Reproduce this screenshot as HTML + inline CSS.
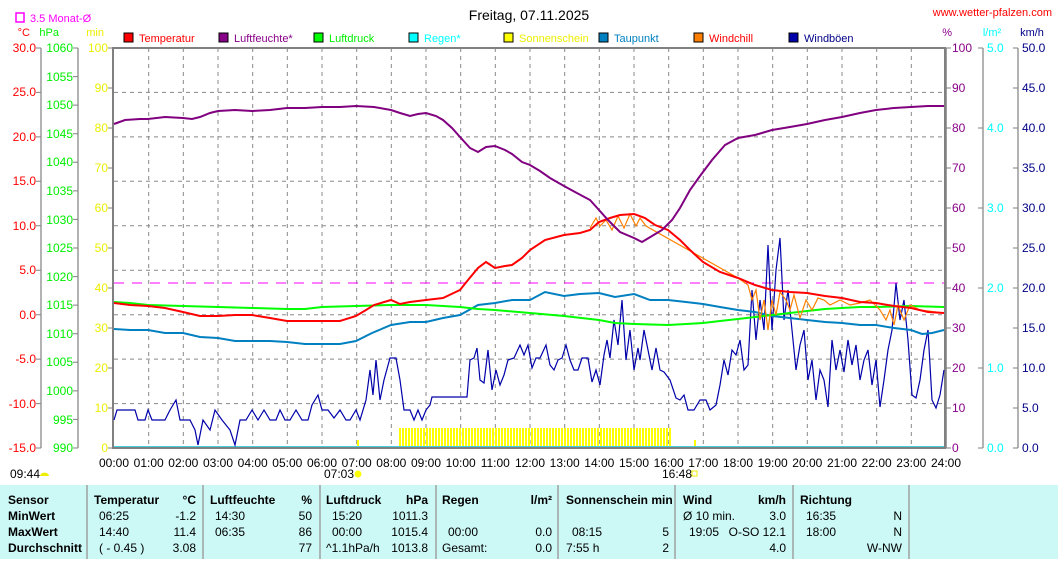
<!DOCTYPE html>
<html><head><meta charset="utf-8"><style>
body{margin:0;background:#fff;width:1058px;height:559px;overflow:hidden;font-family:"Liberation Sans","DejaVu Sans",sans-serif}
svg text{font-family:"Liberation Sans","DejaVu Sans",sans-serif;font-size:12px}
</style></head><body>
<svg width="1058" height="559" viewBox="0 0 1058 559" xmlns="http://www.w3.org/2000/svg">
<rect width="1058" height="559" fill="#fff"/>
<text x="529" y="20" text-anchor="middle" style="font-size:14px" fill="#000">Freitag, 07.11.2025</text>
<text x="1052" y="16" text-anchor="end" fill="#f00" style="font-size:11px">www.wetter-pfalzen.com</text>
<rect x="16" y="13" width="8" height="9" fill="none" stroke="#f0f" stroke-width="1.5"/>
<text x="30" y="22" fill="#f0f" style="font-size:11px">3.5 Monat-Ø</text>
<text x="30" y="36" fill="#f00" text-anchor="end" style="font-size:11px">°C</text>
<text x="59" y="36" fill="#0e0" text-anchor="end" style="font-size:11px">hPa</text>
<text x="104" y="36" fill="#ee0" text-anchor="end" style="font-size:11px">min</text>
<text x="952" y="36" fill="#808" text-anchor="end" style="font-size:11px">%</text>
<text x="992" y="36" fill="#0ff" text-anchor="middle" style="font-size:11px">l/m²</text>
<text x="1032" y="36" fill="#008" text-anchor="middle" style="font-size:11px">km/h</text>
<!-- legend -->
<g style="font-size:11px">
<rect x="124" y="33" width="9" height="9" fill="#f00" stroke="#000"/><text x="139" y="42" fill="#f00" style="font-size:11px">Temperatur</text>
<rect x="219" y="33" width="9" height="9" fill="#808" stroke="#000"/><text x="234" y="42" fill="#808" style="font-size:11px">Luftfeuchte*</text>
<rect x="314" y="33" width="9" height="9" fill="#0f0" stroke="#000"/><text x="329" y="42" fill="#0e0" style="font-size:11px">Luftdruck</text>
<rect x="409" y="33" width="9" height="9" fill="#0ff" stroke="#000"/><text x="424" y="42" fill="#0ff" style="font-size:11px">Regen*</text>
<rect x="504" y="33" width="9" height="9" fill="#ff0" stroke="#000"/><text x="519" y="42" fill="#ee0" style="font-size:11px">Sonnenschein</text>
<rect x="599" y="33" width="9" height="9" fill="#0080c0" stroke="#000"/><text x="614" y="42" fill="#0080c0" style="font-size:11px">Taupunkt</text>
<rect x="694" y="33" width="9" height="9" fill="#ff8000" stroke="#000"/><text x="709" y="42" fill="#f00" style="font-size:11px">Windchill</text>
<rect x="789" y="33" width="9" height="9" fill="#00a" stroke="#000"/><text x="804" y="42" fill="#008" style="font-size:11px">Windböen</text>
</g>
<!-- grid -->
<g stroke="#888" stroke-dasharray="4,4" stroke-width="1">
<line x1="114" y1="92.4" x2="944" y2="92.4"/><line x1="114" y1="136.9" x2="944" y2="136.9"/><line x1="114" y1="181.3" x2="944" y2="181.3"/><line x1="114" y1="225.8" x2="944" y2="225.8"/><line x1="114" y1="270.2" x2="944" y2="270.2"/><line x1="114" y1="314.7" x2="944" y2="314.7"/><line x1="114" y1="359.1" x2="944" y2="359.1"/><line x1="114" y1="403.6" x2="944" y2="403.6"/>
<line x1="148.7" y1="48" x2="148.7" y2="448"/><line x1="183.3" y1="48" x2="183.3" y2="448"/><line x1="218" y1="48" x2="218" y2="448"/><line x1="252.7" y1="48" x2="252.7" y2="448"/><line x1="287.3" y1="48" x2="287.3" y2="448"/><line x1="322" y1="48" x2="322" y2="448"/><line x1="356.7" y1="48" x2="356.7" y2="448"/><line x1="391.3" y1="48" x2="391.3" y2="448"/><line x1="426" y1="48" x2="426" y2="448"/><line x1="460.7" y1="48" x2="460.7" y2="448"/><line x1="495.3" y1="48" x2="495.3" y2="448"/><line x1="530" y1="48" x2="530" y2="448"/><line x1="564.7" y1="48" x2="564.7" y2="448"/><line x1="599.3" y1="48" x2="599.3" y2="448"/><line x1="634" y1="48" x2="634" y2="448"/><line x1="668.7" y1="48" x2="668.7" y2="448"/><line x1="703.3" y1="48" x2="703.3" y2="448"/><line x1="738" y1="48" x2="738" y2="448"/><line x1="772.7" y1="48" x2="772.7" y2="448"/><line x1="807.3" y1="48" x2="807.3" y2="448"/><line x1="842" y1="48" x2="842" y2="448"/><line x1="876.7" y1="48" x2="876.7" y2="448"/><line x1="911.3" y1="48" x2="911.3" y2="448"/>
</g>
<line x1="114" y1="283" x2="944" y2="283" stroke="#f0f" stroke-dasharray="10,8"/>
<!-- sunshine -->
<defs><pattern id="sp" width="3" height="20" patternUnits="userSpaceOnUse"><rect width="2" height="20" fill="#ff0"/></pattern></defs>
<rect x="398" y="428" width="273" height="19" fill="url(#sp)"/>
<rect x="357" y="440" width="2" height="8" fill="#ff0"/><rect x="694" y="440" width="2" height="8" fill="#ff0"/>
<line x1="114" y1="447" x2="944" y2="447" stroke="#40d0e0" stroke-width="2"/>
<!-- axes frame -->
<rect x="113" y="48" width="832" height="400" fill="none" stroke="#808080" stroke-width="2"/>
<line x1="946" y1="48" x2="946" y2="448" stroke="#808080" stroke-width="1.5"/>
<g stroke="#808080" stroke-width="1.2">
<line x1="41" y1="48" x2="41" y2="448"/><line x1="78" y1="48" x2="78" y2="448"/>
<line x1="983" y1="48" x2="983" y2="448"/><line x1="1018" y1="48" x2="1018" y2="448"/>
</g>
<!-- left tick labels -->
<g fill="#f00" text-anchor="end">
<text x="36" y="52">30.0</text><text x="36" y="96">25.0</text><text x="36" y="141">20.0</text><text x="36" y="185">15.0</text><text x="36" y="230">10.0</text><text x="36" y="274">5.0</text><text x="36" y="319">0.0</text><text x="36" y="363">-5.0</text><text x="36" y="408">-10.0</text><text x="36" y="452">-15.0</text>
</g>
<g stroke="#808080"><path d="M36 48h5M36 92.4h5M36 136.9h5M36 181.3h5M36 225.8h5M36 270.2h5M36 314.7h5M36 359.1h5M36 403.6h5M36 448h5M73 48h5M73 76.6h5M73 105.1h5M73 133.7h5M73 162.3h5M73 190.9h5M73 219.4h5M73 248h5M73 276.6h5M73 305.1h5M73 333.7h5M73 362.3h5M73 390.9h5M73 419.4h5M73 448h5M108 48h5M108 88h5M108 128h5M108 168h5M108 208h5M108 248h5M108 288h5M108 328h5M108 368h5M108 408h5M108 448h5M946 48h5M946 88h5M946 128h5M946 168h5M946 208h5M946 248h5M946 288h5M946 328h5M946 368h5M946 408h5M946 448h5M978 48h5M978 128h5M978 208h5M978 288h5M978 368h5M978 448h5M1013 48h5M1013 88h5M1013 128h5M1013 168h5M1013 208h5M1013 248h5M1013 288h5M1013 328h5M1013 368h5M1013 408h5M1013 448h5"/></g>
<g fill="#0e0" text-anchor="end">
<text x="73" y="52">1060</text><text x="73" y="81">1055</text><text x="73" y="109">1050</text><text x="73" y="138">1045</text><text x="73" y="166">1040</text><text x="73" y="195">1035</text><text x="73" y="224">1030</text><text x="73" y="252">1025</text><text x="73" y="281">1020</text><text x="73" y="309">1015</text><text x="73" y="338">1010</text><text x="73" y="366">1005</text><text x="73" y="395">1000</text><text x="73" y="424">995</text><text x="73" y="452">990</text>
</g>
<g fill="#ee0" text-anchor="end">
<text x="108" y="52">100</text><text x="108" y="92">90</text><text x="108" y="132">80</text><text x="108" y="172">70</text><text x="108" y="212">60</text><text x="108" y="252">50</text><text x="108" y="292">40</text><text x="108" y="332">30</text><text x="108" y="372">20</text><text x="108" y="412">10</text><text x="108" y="452">0</text>
</g>
<g fill="#808">
<text x="952" y="52">100</text><text x="952" y="92">90</text><text x="952" y="132">80</text><text x="952" y="172">70</text><text x="952" y="212">60</text><text x="952" y="252">50</text><text x="952" y="292">40</text><text x="952" y="332">30</text><text x="952" y="372">20</text><text x="952" y="412">10</text><text x="952" y="452">0</text>
</g>
<g fill="#0ff">
<text x="987" y="52">5.0</text><text x="987" y="132">4.0</text><text x="987" y="212">3.0</text><text x="987" y="292">2.0</text><text x="987" y="372">1.0</text><text x="987" y="452">0.0</text>
</g>
<g fill="#008">
<text x="1022" y="52">50.0</text><text x="1022" y="92">45.0</text><text x="1022" y="132">40.0</text><text x="1022" y="172">35.0</text><text x="1022" y="212">30.0</text><text x="1022" y="252">25.0</text><text x="1022" y="292">20.0</text><text x="1022" y="332">15.0</text><text x="1022" y="372">10.0</text><text x="1022" y="412">5.0</text><text x="1022" y="452">0.0</text>
</g>
<!-- x labels -->
<g fill="#000" text-anchor="middle">
<text x="114" y="467">00:00</text><text x="148.7" y="467">01:00</text><text x="183.3" y="467">02:00</text><text x="218" y="467">03:00</text><text x="252.7" y="467">04:00</text><text x="287.3" y="467">05:00</text><text x="322" y="467">06:00</text><text x="356.7" y="467">07:00</text><text x="391.3" y="467">08:00</text><text x="426" y="467">09:00</text><text x="460.7" y="467">10:00</text><text x="495.3" y="467">11:00</text><text x="530" y="467">12:00</text><text x="564.7" y="467">13:00</text><text x="599.3" y="467">14:00</text><text x="634" y="467">15:00</text><text x="668.7" y="467">16:00</text><text x="703.3" y="467">17:00</text><text x="738" y="467">18:00</text><text x="772.7" y="467">19:00</text><text x="807.3" y="467">20:00</text><text x="842" y="467">21:00</text><text x="876.7" y="467">22:00</text><text x="911.3" y="467">23:00</text><text x="946" y="467">24:00</text>
</g>
<text x="10" y="478">09:44</text><path d="M40 476a4 3 0 0 1 9 0z" fill="#ee0"/>
<text x="324" y="478">07:03</text><circle cx="358" cy="474" r="3.5" fill="#ff0"/>
<text x="662" y="478">16:48</text><rect x="692" y="471" width="5" height="5" fill="none" stroke="#ee0"/>
<!-- series -->
<polyline fill="none" stroke="#00a" stroke-width="1.2" points="114,420 117,410 135,410 138,420 145,420 148,410 152,420 165,420 170,410 176,400 180,420 190,420 195,430 198,445 203,420 210,430 215,410 222,420 230,430 235,445 240,420 246,420 252,410 258,420 264,410 270,420 276,420 280,410 285,420 290,420 296,410 302,420 308,420 312,405 318,395 322,410 328,410 334,418 340,410 346,420 350,420 356,410 360,420 366,400 370,370 373,395 376,360 380,400 384,380 390,358 396,358 400,380 404,410 410,410 414,420 418,410 422,420 426,410 430,405 432,397 467,397 470,360 474,358 477,348 480,380 484,383 488,350 492,390 496,370 500,385 504,375 508,360 514,358 520,345 524,355 528,345 532,368 536,358 540,358 546,345 550,365 554,370 558,360 562,358 566,345 570,360 574,370 578,370 582,358 588,358 592,382 596,370 600,385 604,355 607,340 610,358 614,320 618,345 622,300 626,360 630,330 634,370 638,348 640,360 644,330 648,350 652,370 656,348 660,370 664,372 670,380 676,398 680,400 684,395 688,410 694,410 700,400 706,400 710,410 716,405 720,385 724,360 728,375 732,350 736,355 740,340 744,370 748,365 752,290 756,340 760,300 764,330 768,245 772,330 776,270 780,238 784,320 788,290 792,330 796,370 800,345 804,330 808,380 812,360 816,400 820,370 824,380 828,407 832,340 836,370 840,350 844,372 848,340 852,365 856,345 860,380 864,360 868,350 872,385 876,360 880,407 884,380 888,350 892,330 896,283 900,320 904,300 908,340 912,395 916,398 920,380 924,350 928,330 932,400 936,408 940,395 944,370"/>
<polyline fill="none" stroke="#0080c0" stroke-width="2" points="114,329 130,330 148,330 165,333 183,333 200,337 218,338 235,341 252,341 270,341 287,342 305,344 322,344 340,344 356,341 372,333 391,325 410,322 426,322 443,318 460,315 478,305 495,303 512,300 530,300 545,292 564,296 580,294 599,293 615,297 634,294 650,300 668,300 686,302 703,304 720,307 738,310 755,312 772,316 790,318 807,320 825,322 842,323 860,325 876,325 894,328 911,330 922,334 932,333 944,330"/>
<polyline fill="none" stroke="#0f0" stroke-width="2" points="114,302 130,303 148,305 183,306 218,307 252,308 287,309 305,309 322,307 356,306 391,305 426,305 460,307 478,309 495,310 530,313 564,316 599,320 615,323 634,324 668,325 686,324 703,323 720,321 738,319 755,317 772,315 790,313 807,311 825,309 842,308 860,307 876,307 911,306 944,307"/>
<polyline fill="none" stroke="#ff8000" stroke-width="1.2" points="590,228 596,218 600,226 606,220 612,230 618,216 624,228 630,214 636,226 640,218 646,226 738,278 748,285 752,300 756,290 760,320 764,300 768,330 772,300 776,315 780,292 786,300 790,310 794,295 800,318 806,300 812,310 818,298 824,300 830,305 840,300 850,305 860,303 870,300 880,310 886,320 890,310 894,325 898,305 904,320 910,305 920,310 944,313"/>
<polyline fill="none" stroke="#f00" stroke-width="2" points="114,303 130,305 148,306 165,308 183,312 200,316 218,316 235,315 252,315 270,318 287,321 305,321 322,321 340,321 356,316 366,310 374,305 391,300 400,304 410,302 426,300 443,298 460,290 468,280 478,268 486,262 495,268 505,266 512,265 522,258 530,250 545,240 564,235 580,233 590,230 599,222 610,218 620,215 634,214 645,218 655,225 668,230 680,240 690,250 703,262 720,272 738,278 755,285 772,290 790,292 807,293 825,296 842,298 860,302 876,303 894,306 911,308 928,312 944,313"/>
<polyline fill="none" stroke="#800080" stroke-width="2" points="114,124 125,120 140,119 148,119 165,117 183,118 192,119 200,117 210,113 218,111 235,110 252,111 270,110 287,108 305,108 322,107 340,107 356,106 374,107 391,110 400,113 410,116 418,114 426,113 436,116 443,120 452,128 460,137 470,148 478,152 486,147 495,146 505,150 512,154 522,162 530,165 540,171 550,178 564,186 575,192 590,200 599,210 608,220 620,232 634,238 642,242 652,236 662,230 672,220 680,208 690,190 700,176 712,160 725,145 738,138 755,135 772,130 790,127 807,124 825,120 842,117 860,113 876,110 894,108 911,107 928,106 944,106"/>
<!-- table -->
<rect x="0" y="485" width="1058" height="74" fill="#ccf8f6"/>
<g stroke="#a0a0a0" stroke-width="1.5">
<line x1="87" y1="485" x2="87" y2="559"/><line x1="203" y1="485" x2="203" y2="559"/><line x1="320" y1="485" x2="320" y2="559"/><line x1="436" y1="485" x2="436" y2="559"/><line x1="558" y1="485" x2="558" y2="559"/><line x1="675" y1="485" x2="675" y2="559"/><line x1="793" y1="485" x2="793" y2="559"/><line x1="909" y1="485" x2="909" y2="559"/>
</g>
<g fill="#000" style="font-size:12px">
<g font-weight="bold">
<text x="8" y="504">Sensor</text><text x="8" y="520">MinWert</text><text x="8" y="536">MaxWert</text><text x="8" y="552">Durchschnitt</text>
<text x="94" y="504">Temperatur</text><text x="196" y="504" text-anchor="end">°C</text>
<text x="210" y="504">Luftfeuchte</text><text x="312" y="504" text-anchor="end">%</text>
<text x="326" y="504">Luftdruck</text><text x="428" y="504" text-anchor="end">hPa</text>
<text x="442" y="504">Regen</text><text x="552" y="504" text-anchor="end">l/m²</text>
<text x="566" y="504">Sonnenschein min</text>
<text x="683" y="504">Wind</text><text x="786" y="504" text-anchor="end">km/h</text>
<text x="800" y="504">Richtung</text>
</g>
<text x="99" y="520">06:25</text><text x="196" y="520" text-anchor="end">-1.2</text>
<text x="99" y="536">14:40</text><text x="196" y="536" text-anchor="end">11.4</text>
<text x="99" y="552">( - 0.45 )</text><text x="196" y="552" text-anchor="end">3.08</text>
<text x="215" y="520">14:30</text><text x="312" y="520" text-anchor="end">50</text>
<text x="215" y="536">06:35</text><text x="312" y="536" text-anchor="end">86</text>
<text x="312" y="552" text-anchor="end">77</text>
<text x="332" y="520">15:20</text><text x="428" y="520" text-anchor="end">1011.3</text>
<text x="332" y="536">00:00</text><text x="428" y="536" text-anchor="end">1015.4</text>
<text x="326" y="552">^1.1hPa/h</text><text x="428" y="552" text-anchor="end">1013.8</text>
<text x="448" y="536">00:00</text><text x="552" y="536" text-anchor="end">0.0</text>
<text x="442" y="552">Gesamt:</text><text x="552" y="552" text-anchor="end">0.0</text>
<text x="572" y="536">08:15</text><text x="669" y="536" text-anchor="end">5</text>
<text x="566" y="552">7:55 h</text><text x="669" y="552" text-anchor="end">2</text>
<text x="683" y="520">Ø 10 min.</text><text x="786" y="520" text-anchor="end">3.0</text>
<text x="689" y="536">19:05</text><text x="786" y="536" text-anchor="end">O-SO 12.1</text>
<text x="786" y="552" text-anchor="end">4.0</text>
<text x="806" y="520">16:35</text><text x="902" y="520" text-anchor="end">N</text>
<text x="806" y="536">18:00</text><text x="902" y="536" text-anchor="end">N</text>
<text x="902" y="552" text-anchor="end">W-NW</text>
</g>
</svg>
</body></html>
